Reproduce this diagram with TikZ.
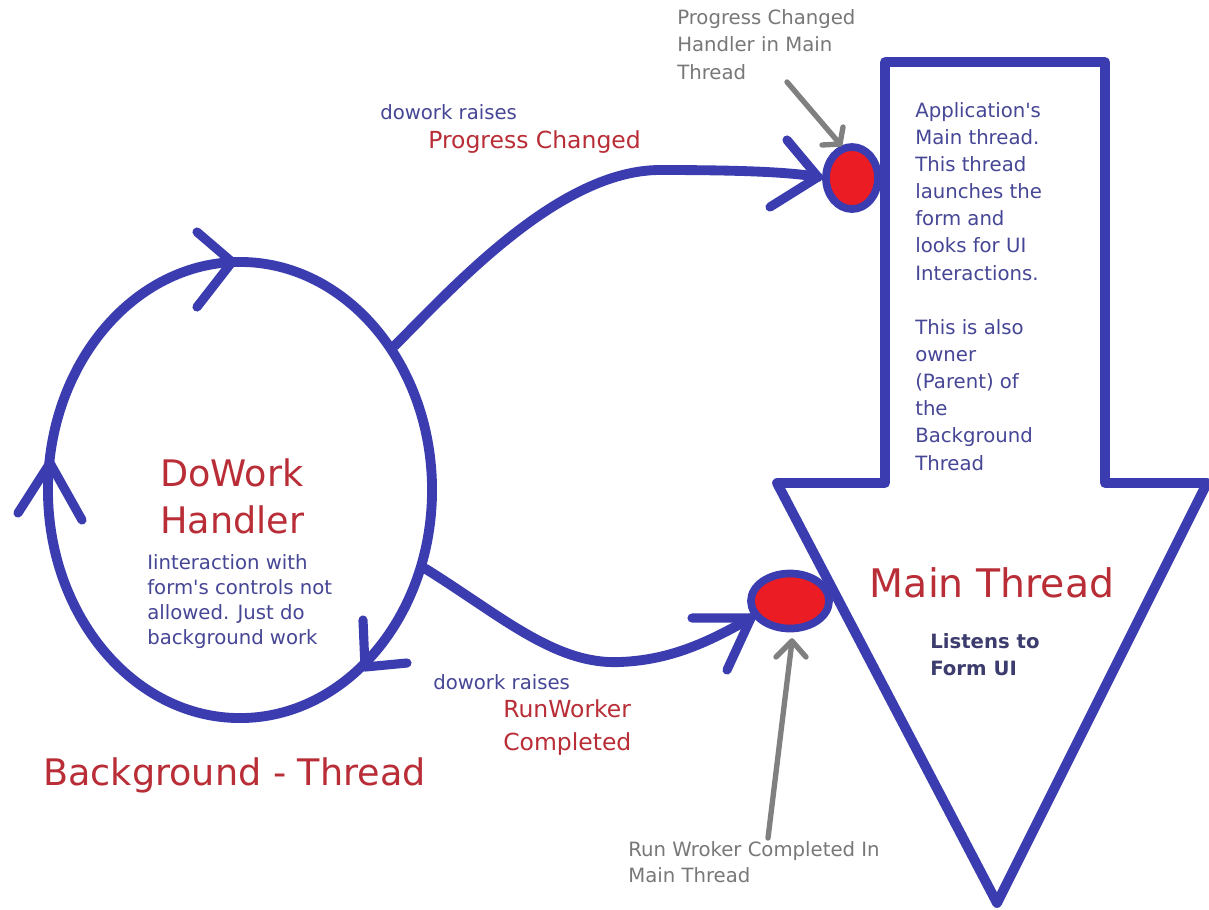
\documentclass[tikz,border=0pt]{standalone}
\usepackage{fontspec}
\setmainfont{DejaVu Sans}
\usetikzlibrary{shapes.geometric,calc}
\definecolor{pblue}{RGB}{58,60,175}
\definecolor{pred}{RGB}{235,28,36}
\definecolor{tred}{RGB}{185,45,55}
\definecolor{tblue}{RGB}{70,70,150}
\definecolor{tgray}{RGB}{120,120,120}
\definecolor{agray}{RGB}{128,128,128}
\definecolor{tdark}{RGB}{60,60,110}
\begin{document}
\begin{tikzpicture}[x=0.025cm,y=-0.025cm,line cap=round,line join=round,
  pen/.style={draw=pblue,line width=7pt},
  armst/.style={draw=pblue,line width=6.5pt},
  grayarrow/.style={draw=agray,line width=3.8pt},
  dot/.style={ellipse,draw=pblue,line width=5.5pt,fill=pred,inner sep=0pt},
  txt/.style={inner sep=0pt,anchor=base west,align=left},
  small/.style={font=\fontsize{14}{19.3}\selectfont},
  mid/.style={font=\fontsize{16.7}{22.8}\selectfont},
  big/.style={font=\fontsize{26}{33.4}\selectfont}]
\useasboundingbox[fill=white] (0,0) rectangle (1209,909);

% Main thread big arrow
\draw[pen] (885,62) -- (1105,62) -- (1105,483) -- (1207,483) -- (997,903)
  -- (777,483) -- (885,483) -- cycle;

% background thread ellipse
\node[ellipse,pen,minimum width=9.6cm,minimum height=11.4cm,inner sep=0pt] (bgt) at (240,490) {};

% red handler dots
\node[dot,minimum width=1.3cm,minimum height=1.55cm] (pc) at (852,178) {};
\node[dot,minimum width=1.95cm,minimum height=1.375cm] (rw) at (790,601) {};

% arrowhead tips
\coordinate (ttop) at (232,262);
\coordinate (tleft) at (50,463);
\coordinate (tbr) at (365,667);
\coordinate (tpc) at (818,177);
\coordinate (trw) at (751,618);

% ellipse arrowheads
\draw[armst] (197,232) -- (ttop) -- (197,307);
\draw[armst] (18,513) -- (tleft) -- (82,520);
\draw[armst] (363,620) -- (tbr) -- (407,663);

% progress changed connector
\draw[pen] (bgt.43) .. controls (455,285) and (560,170) .. (660,170)
  .. controls (740,170) and (790,172) .. (tpc);
\draw[armst] (787,140) -- (tpc) -- (770,207);

% run worker completed connector
\draw[pen] (bgt.-23) .. controls (500,615) and (555,665) .. (620,662)
  .. controls (675,660) and (715,638) .. (trw);
\draw[armst] (692,618) -- (trw) -- (727,670);

% texts (base anchor = baseline of last line)
\node[txt,small,text=tgray] (gtop) at (677,79) {Progress Changed\\Handler in Main\\Thread};
\node[txt,small,text=tblue] (dr1) at (380,119) {dowork raises};
\node[txt,mid,text=tred] (prc) at (428,148) {Progress Changed};
\node[txt,small,text=tblue] (appl) at (915,470) {Application\textquotesingle s\\Main thread.\\This thread\\launches the\\form and\\looks for UI\\Interactions.\\[19.3pt]This is also\\owner\\(Parent) of\\the\\Background\\Thread};
\node[txt,big,text=tred] (dow) at (160,533) {DoWork\\Handler};
\node[txt,font=\fontsize{14}{17.6}\selectfont,text=tblue] (inter) at (147,644) {Iinteraction with\\form\textquotesingle s controls not\\allowed. Just do\\background work};
\node[txt,big,text=tred] (bgl) at (43,785) {Background - Thread};
\node[txt,small,text=tblue] (dr2) at (433,689) {dowork raises};
\node[txt,mid,text=tred] (rwc) at (503,750) {RunWorker\\Completed};
\node[txt,font=\fontsize{14}{17.8}\selectfont,text=tgray] (gbot) at (628,882) {Run Wroker Completed In\\Main Thread};
\node[inner sep=0pt,anchor=base,font=\fontsize{28}{34}\selectfont,text=tred] (mt) at (992,597) {Main Thread};
\node[txt,font=\fontsize{14}{18.5}\selectfont\bfseries,text=tdark] (lis) at (930,675) {Listens to\\Form UI};

% gray pointer arrows
\coordinate (g1s) at (787,82);
\coordinate (g1t) at (840,144);
\draw[grayarrow] (g1s) -- (g1t);
\draw[grayarrow] (822,145) -- (g1t) -- (843,127);
\coordinate (g2s) at (768,838);
\coordinate (g2t) at (792,641);
\draw[grayarrow] (g2s) -- (g2t);
\draw[grayarrow] (776,657) -- (g2t) -- (806,657);
\end{tikzpicture}
\end{document}
